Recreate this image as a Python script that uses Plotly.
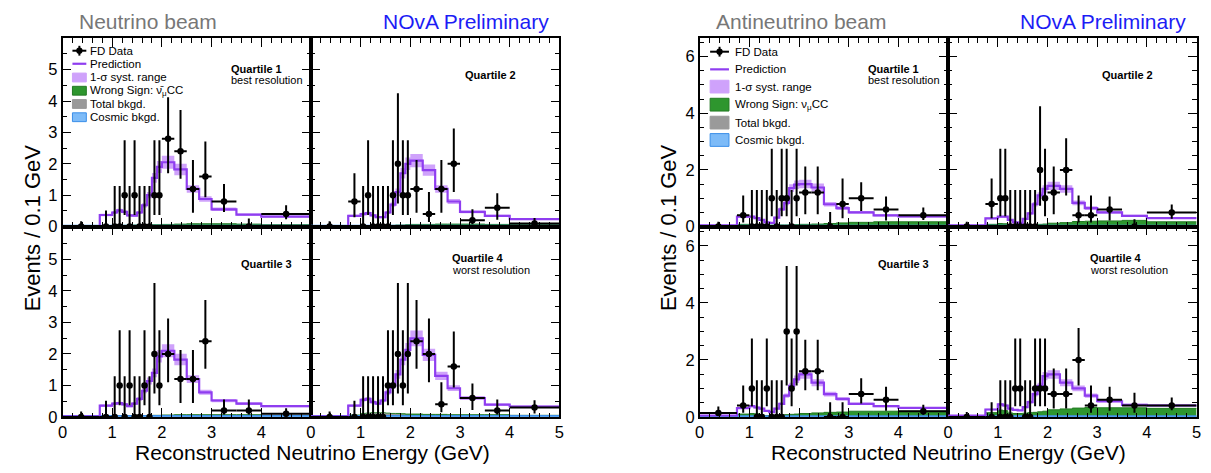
import plotly.graph_objects as go

W, H = 1211, 473

# Reconstructed energy binning (GeV)
EDGES = [0.0, 0.75, 1.0, 1.1, 1.2, 1.3, 1.4, 1.5, 1.6, 1.7, 1.8, 1.9, 2.0,
         2.25, 2.5, 2.75, 3.0, 3.5, 4.0, 5.0]

# Feldman-Cousins 68% intervals (b = 0) indexed by observed count
FC_LO = [0.00, 0.37, 0.74, 1.10, 2.34, 2.75, 3.82, 4.25, 5.30, 6.33, 6.78]
FC_HI = [1.29, 2.75, 4.25, 5.30, 6.78, 7.81, 9.28, 10.30, 11.32, 12.79, 13.81]

# Far-detector observed event counts per bin
counts_nu_q1 = [0, 0, 0, 0, 1, 0, 1, 0, 0, 0, 1, 1, 7, 6, 3, 4, 4, 0, 4]
counts_nu_q2 = [0, 2, 0, 1, 0, 0, 0, 0, 1, 2, 1, 1, 3, 1, 3, 5, 1, 3, 1]
counts_nu_q3 = [0, 0, 0, 1, 0, 1, 0, 0, 1, 0, 2, 1, 5, 3, 3, 6, 1, 1, 1]
counts_nu_q4 = [0, 0, 0, 0, 0, 0, 0, 1, 1, 2, 1, 2, 6, 5, 1, 4, 3, 1, 3]
counts_anti_q1 = [0, 1, 0, 0, 0, 0, 1, 0, 1, 1, 0, 1, 3, 3, 0, 2, 5, 3, 4]
counts_anti_q2 = [0, 2, 1, 1, 0, 0, 0, 0, 0, 0, 2, 1, 3, 5, 1, 1, 3, 0, 5]
counts_anti_q3 = [1, 1, 1, 0, 0, 1, 0, 0, 0, 3, 1, 3, 4, 4, 0, 0, 4, 3, 2]
counts_anti_q4 = [0, 0, 0, 0, 0, 1, 1, 0, 0, 1, 1, 1, 2, 2, 5, 1, 3, 2, 4]

# Predicted spectra (events / 0.1 GeV)
pred_nu_q1 = [0.02, 0.37, 0.45, 0.52, 0.47, 0.36, 0.35, 0.45, 0.68, 1.00, 1.55, 1.90, 2.05, 1.82, 1.20, 0.88, 0.55, 0.38, 0.32]
pred_nu_q2 = [0.02, 0.34, 0.40, 0.43, 0.36, 0.30, 0.30, 0.45, 0.70, 1.10, 1.70, 2.00, 2.10, 1.80, 1.20, 0.80, 0.47, 0.34, 0.24]
pred_nu_q3 = [0.02, 0.36, 0.42, 0.44, 0.40, 0.34, 0.42, 0.57, 0.83, 1.14, 1.40, 1.92, 2.10, 1.82, 1.20, 0.78, 0.52, 0.42, 0.34]
pred_nu_q4 = [0.02, 0.36, 0.54, 0.57, 0.47, 0.42, 0.52, 0.78, 0.99, 1.35, 1.82, 2.13, 2.49, 1.97, 1.30, 0.91, 0.60, 0.39, 0.33]
pred_anti_q1 = [0.04, 0.35, 0.35, 0.30, 0.24, 0.15, 0.13, 0.32, 0.61, 0.84, 1.36, 1.48, 1.50, 1.38, 0.79, 0.65, 0.50, 0.40, 0.36]
pred_anti_q2 = [0.04, 0.29, 0.35, 0.35, 0.24, 0.15, 0.13, 0.27, 0.47, 0.79, 1.10, 1.33, 1.44, 1.33, 0.84, 0.65, 0.50, 0.38, 0.30]
pred_anti_q3 = [0.05, 0.31, 0.38, 0.33, 0.29, 0.21, 0.17, 0.29, 0.46, 0.75, 1.09, 1.32, 1.49, 1.20, 0.80, 0.63, 0.46, 0.38, 0.32]
pred_anti_q4 = [0.05, 0.26, 0.44, 0.40, 0.29, 0.25, 0.23, 0.34, 0.52, 0.80, 1.09, 1.43, 1.49, 1.20, 1.00, 0.75, 0.55, 0.42, 0.40]

# Relative 1-sigma systematic uncertainty on the prediction
SYST_FRAC = 0.10

# Wrong-sign component
ws_nu_q1 = [0.0, 0.01, 0.01, 0.01, 0.01, 0.01, 0.02, 0.02, 0.02, 0.03, 0.04, 0.04, 0.05, 0.06, 0.07, 0.07, 0.07, 0.06, 0.05]
ws_nu_q2 = [0.0, 0.01, 0.01, 0.01, 0.01, 0.01, 0.01, 0.02, 0.02, 0.03, 0.03, 0.04, 0.05, 0.05, 0.06, 0.06, 0.06, 0.05, 0.05]
ws_nu_q3 = [0.0, 0.01, 0.01, 0.01, 0.01, 0.01, 0.01, 0.01, 0.02, 0.02, 0.03, 0.03, 0.04, 0.05, 0.05, 0.05, 0.05, 0.05, 0.04]
ws_nu_q4 = [0.0, 0.02, 0.03, 0.03, 0.03, 0.03, 0.03, 0.03, 0.03, 0.04, 0.04, 0.04, 0.05, 0.05, 0.05, 0.05, 0.05, 0.05, 0.04]
ws_anti_q1 = [0.0, 0.06, 0.05, 0.04, 0.03, 0.03, 0.03, 0.03, 0.04, 0.04, 0.05, 0.05, 0.06, 0.07, 0.09, 0.11, 0.13, 0.15, 0.15]
ws_anti_q2 = [0.0, 0.06, 0.09, 0.08, 0.05, 0.03, 0.03, 0.03, 0.04, 0.05, 0.06, 0.07, 0.10, 0.12, 0.16, 0.17, 0.18, 0.20, 0.15]
ws_anti_q3 = [0.0, 0.08, 0.10, 0.09, 0.05, 0.03, 0.03, 0.04, 0.05, 0.06, 0.07, 0.08, 0.10, 0.12, 0.14, 0.15, 0.18, 0.18, 0.18]
ws_anti_q4 = [0.0, 0.12, 0.20, 0.18, 0.10, 0.08, 0.08, 0.10, 0.12, 0.13, 0.15, 0.17, 0.22, 0.25, 0.28, 0.30, 0.30, 0.30, 0.28]

# Total beam background
bkg_nu_q1 = [0.01, 0.02, 0.02, 0.02, 0.03, 0.03, 0.03, 0.03, 0.03, 0.02, 0.02, 0.02, 0.02, 0.02, 0.02, 0.02, 0.02, 0.02, 0.01]
bkg_nu_q2 = [0.01, 0.02, 0.02, 0.02, 0.02, 0.02, 0.02, 0.02, 0.02, 0.02, 0.02, 0.02, 0.02, 0.02, 0.02, 0.02, 0.02, 0.02, 0.01]
bkg_nu_q3 = [0.01, 0.02, 0.02, 0.02, 0.02, 0.02, 0.02, 0.02, 0.02, 0.02, 0.02, 0.02, 0.02, 0.02, 0.02, 0.02, 0.02, 0.02, 0.01]
bkg_nu_q4 = [0.01, 0.04, 0.08, 0.09, 0.10, 0.10, 0.10, 0.09, 0.08, 0.07, 0.06, 0.05, 0.04, 0.03, 0.03, 0.02, 0.02, 0.02, 0.01]
bkg_anti_q1 = [0.01, 0.02, 0.02, 0.02, 0.02, 0.02, 0.02, 0.02, 0.02, 0.02, 0.02, 0.02, 0.02, 0.02, 0.02, 0.02, 0.02, 0.02, 0.02]
bkg_anti_q2 = [0.01, 0.02, 0.02, 0.02, 0.02, 0.02, 0.02, 0.02, 0.02, 0.02, 0.02, 0.02, 0.02, 0.02, 0.02, 0.02, 0.02, 0.02, 0.02]
bkg_anti_q3 = [0.01, 0.02, 0.02, 0.02, 0.02, 0.02, 0.02, 0.02, 0.02, 0.02, 0.02, 0.02, 0.02, 0.02, 0.02, 0.02, 0.02, 0.02, 0.02]
bkg_anti_q4 = [0.01, 0.03, 0.04, 0.04, 0.04, 0.04, 0.04, 0.03, 0.03, 0.03, 0.03, 0.03, 0.03, 0.03, 0.03, 0.03, 0.02, 0.02, 0.02]

# Cosmic background
cosmic = [0.035, 0.035, 0.035, 0.035, 0.035, 0.035, 0.035, 0.035, 0.035, 0.035,
          0.035, 0.035, 0.035, 0.035, 0.035, 0.035, 0.035, 0.035, 0.035]

# Quartile captions
quartile_titles = ["Quartile 1", "Quartile 2", "Quartile 3", "Quartile 4"]
quartile_notes = ["best resolution", "", "", "worst resolution"]

C_PRED = "#8f3df0"
C_BAND = "#cfa2fb"
C_WS = "#2e962e"
C_WS_EDGE = "#237a23"
C_BKG = "#9a9a9a"
C_COS = "#7dbbf8"
C_COS_EDGE = "#3a8ee8"
FONT = "Liberation Sans, Arial, Helvetica, sans-serif"


def fx(px):
    return px / W


def fy(py):
    return 1 - py / H


def step_y(vals):
    return list(vals) + [vals[-1]]


widths = [EDGES[i + 1] - EDGES[i] for i in range(len(EDGES) - 1)]
centers = [(EDGES[i + 1] + EDGES[i]) / 2 for i in range(len(EDGES) - 1)]
scale = [0.1 / w for w in widths]

panels = [
    # beam, quartile, counts, pred, ws, bkg, x pixels, y pixels, ymax
    ("nu", 0, counts_nu_q1, pred_nu_q1, ws_nu_q1, bkg_nu_q1, (58, 308.5), (39, 231), 6.0),
    ("nu", 1, counts_nu_q2, pred_nu_q2, ws_nu_q2, bkg_nu_q2, (308.5, 559), (39, 231), 6.0),
    ("nu", 2, counts_nu_q3, pred_nu_q3, ws_nu_q3, bkg_nu_q3, (58, 308.5), (231, 425), 6.04),
    ("nu", 3, counts_nu_q4, pred_nu_q4, ws_nu_q4, bkg_nu_q4, (308.5, 559), (231, 425), 6.04),
    ("anti", 0, counts_anti_q1, pred_anti_q1, ws_anti_q1, bkg_anti_q1, (700.5, 951), (39, 231), 6.65),
    ("anti", 1, counts_anti_q2, pred_anti_q2, ws_anti_q2, bkg_anti_q2, (951, 1201.5), (39, 231), 6.65),
    ("anti", 2, counts_anti_q3, pred_anti_q3, ws_anti_q3, bkg_anti_q3, (700.5, 951), (231, 425), 6.68),
    ("anti", 3, counts_anti_q4, pred_anti_q4, ws_anti_q4, bkg_anti_q4, (951, 1201.5), (231, 425), 6.68),
]

fig = go.Figure()
layout_axes = {}

for idx, (beam, q, counts, pred, ws, bkg, xpx, ypx, ymax) in enumerate(panels, start=1):
    xa = "x" if idx == 1 else f"x{idx}"
    ya = "y" if idx == 1 else f"y{idx}"
    stack = [w + b for w, b in zip(ws, bkg)]
    lo = [p * (1 - SYST_FRAC) for p in pred]
    hi = [p * (1 + SYST_FRAC) for p in pred]

    # Wrong sign on top of total background
    fig.add_trace(go.Scatter(x=EDGES, y=step_y(stack), mode="lines", line_shape="hv",
                             line=dict(color=C_WS_EDGE, width=1), fill="tozeroy",
                             fillcolor=C_WS, xaxis=xa, yaxis=ya, showlegend=False,
                             hoverinfo="skip"))
    fig.add_trace(go.Scatter(x=EDGES, y=step_y(bkg), mode="lines", line_shape="hv",
                             line=dict(color=C_BKG, width=1), fill="tozeroy",
                             fillcolor=C_BKG, xaxis=xa, yaxis=ya, showlegend=False,
                             hoverinfo="skip"))
    fig.add_trace(go.Scatter(x=EDGES, y=step_y(cosmic), mode="lines", line_shape="hv",
                             line=dict(color=C_COS_EDGE, width=1.5), fill="tozeroy",
                             fillcolor=C_COS, xaxis=xa, yaxis=ya, showlegend=False,
                             hoverinfo="skip"))
    # Systematic band
    fig.add_trace(go.Scatter(x=EDGES, y=step_y(lo), mode="lines", line_shape="hv",
                             line=dict(color=C_BAND, width=0), xaxis=xa, yaxis=ya,
                             showlegend=False, hoverinfo="skip"))
    fig.add_trace(go.Scatter(x=EDGES, y=step_y(hi), mode="lines", line_shape="hv",
                             line=dict(color=C_BAND, width=0), fill="tonexty",
                             fillcolor=C_BAND, xaxis=xa, yaxis=ya, showlegend=False,
                             hoverinfo="skip"))
    # Prediction
    fig.add_trace(go.Scatter(x=EDGES, y=step_y(pred), mode="lines", line_shape="hv",
                             line=dict(color=C_PRED, width=2.2), xaxis=xa, yaxis=ya,
                             showlegend=False))
    # Data with FC intervals
    vals = [n * s for n, s in zip(counts, scale)]
    eplus = [FC_HI[n] * s - v for n, s, v in zip(counts, scale, vals)]
    eminus = [v - FC_LO[n] * s for n, s, v in zip(counts, scale, vals)]
    fig.add_trace(go.Scatter(
        x=centers, y=vals, mode="markers", xaxis=xa, yaxis=ya, showlegend=False,
        marker=dict(color="black", size=6.5),
        error_x=dict(type="data", array=[w / 2 for w in widths], color="black",
                     thickness=2, width=0),
        error_y=dict(type="data", symmetric=False, array=eplus, arrayminus=eminus,
                     color="black", thickness=2, width=0),
    ))

    bottom = q >= 2
    left = q % 2 == 0
    yt = [0, 1, 2, 3, 4, 5] if beam == "nu" else [0, 2, 4, 6]
    xt = [0, 1, 2, 3, 4] if left else [0, 1, 2, 3, 4, 5]

    common = dict(ticks="inside", tickcolor="black", tickwidth=1, showline=True,
                  linecolor="black", linewidth=1.5, mirror="ticks", showgrid=False,
                  zeroline=False, tickfont=dict(family=FONT, size=16.5, color="black"))
    layout_axes["xaxis" if idx == 1 else f"xaxis{idx}"] = dict(
        domain=[fx(xpx[0]), fx(xpx[1])], anchor=ya, range=[0, 5],
        tickmode="array", tickvals=xt, ticklen=9,
        minor=dict(ticks="inside", ticklen=4.5, tick0=0, dtick=0.2, tickcolor="black"),
        showticklabels=bottom, **common)
    layout_axes["yaxis" if idx == 1 else f"yaxis{idx}"] = dict(
        domain=[fy(ypx[1]), fy(ypx[0])], anchor=xa, range=[0, ymax],
        tickmode="array", tickvals=yt, ticklen=9,
        minor=dict(ticks="inside", ticklen=4.5, tick0=0, dtick=0.5, tickcolor="black"),
        showticklabels=left, **common)

annotations = []
shapes = []


def text(x, y, s, size, color="black", anchor="left", bold=False, angle=0):
    annotations.append(dict(
        x=fx(x), y=fy(y), xref="paper", yref="paper", text=f"<b>{s}</b>" if bold else s,
        showarrow=False, xanchor=anchor, yanchor="middle", textangle=angle,
        font=dict(family=FONT, size=size, color=color)))


# Beam headers
text(73, 22, "Neutrino beam", 21, "#777777")
text(551, 22, "NOvA Preliminary", 21, "#1c1cf5", anchor="right")
text(715, 22, "Antineutrino beam", 21, "#777777")
text(1193, 22, "NOvA Preliminary", 21, "#1c1cf5", anchor="right")

# Axis titles
for xc, yx in [(310, 28), (951, 669)]:
    text(xc, 461, "Reconstructed Neutrino Energy (GeV)", 21, anchor="center")
    text(yx, 232, "Events / 0.1 GeV", 22, anchor="center", angle=-90)

# Quartile captions
quartile_pos = {
    "nu": [(226, 70), (462, 76), (236, 269), (449, 263)],
    "anti": [(868, 70), (1104, 76), (878, 269), (1092, 263)],
}
for beam in ["nu", "anti"]:
    for q in range(4):
        x, y = quartile_pos[beam][q]
        text(x, y, quartile_titles[q], 11, bold=True)
        if quartile_notes[q]:
            text(x, y + 12, quartile_notes[q], 11)

# Legends drawn in pixel space
legend_cfg = [
    # symbol x-range, text x, row centres, box half-height, ws label
    ((68, 82), 83.5, [51.7, 65, 79, 92.5, 106, 119.5], 4.5,
     "Wrong Sign: \u03bd\u0304<sub>\u03bc</sub>CC"),
    ((711, 730), 734, [52.7, 70.7, 88.3, 106.7, 125, 142.7], 6.5,
     "Wrong Sign: \u03bd<sub>\u03bc</sub>CC"),
]
for (x0, x1), tx, rows, hh, ws_label in legend_cfg:
    xm = (x0 + x1) / 2
    # data symbol
    shapes.append(dict(type="line", xref="paper", yref="paper", x0=fx(x0), x1=fx(x1),
                       y0=fy(rows[0]), y1=fy(rows[0]), line=dict(color="black", width=2)))
    shapes.append(dict(type="line", xref="paper", yref="paper", x0=fx(xm), x1=fx(xm),
                       y0=fy(rows[0] - 5), y1=fy(rows[0] + 5), line=dict(color="black", width=2)))
    shapes.append(dict(type="circle", xref="paper", yref="paper", x0=fx(xm - 3.2), x1=fx(xm + 3.2),
                       y0=fy(rows[0] + 3.2), y1=fy(rows[0] - 3.2), fillcolor="black",
                       line=dict(color="black", width=0)))
    # prediction line
    shapes.append(dict(type="line", xref="paper", yref="paper", x0=fx(x0), x1=fx(x1),
                       y0=fy(rows[1]), y1=fy(rows[1]), line=dict(color=C_PRED, width=2.2)))
    # filled boxes
    for r, fc, lc in [(rows[2], C_BAND, C_BAND), (rows[3], C_WS, C_WS_EDGE),
                      (rows[4], C_BKG, C_BKG), (rows[5], C_COS, C_COS_EDGE)]:
        shapes.append(dict(type="rect", xref="paper", yref="paper", x0=fx(x0), x1=fx(x1),
                           y0=fy(r + hh), y1=fy(r - hh), fillcolor=fc,
                           line=dict(color=lc, width=1)))
    labels = ["FD Data", "Prediction", "1-\u03c3 syst. range", ws_label,
              "Total bkgd.", "Cosmic bkgd."]
    for r, lab in zip(rows, labels):
        text(tx, r, lab, 11.5)

fig.update_layout(
    width=W, height=H, margin=dict(l=0, r=0, t=0, b=0),
    paper_bgcolor="white", plot_bgcolor="white", showlegend=False,
    annotations=annotations, shapes=shapes, **layout_axes,
)

fig.write_html("out.html")
